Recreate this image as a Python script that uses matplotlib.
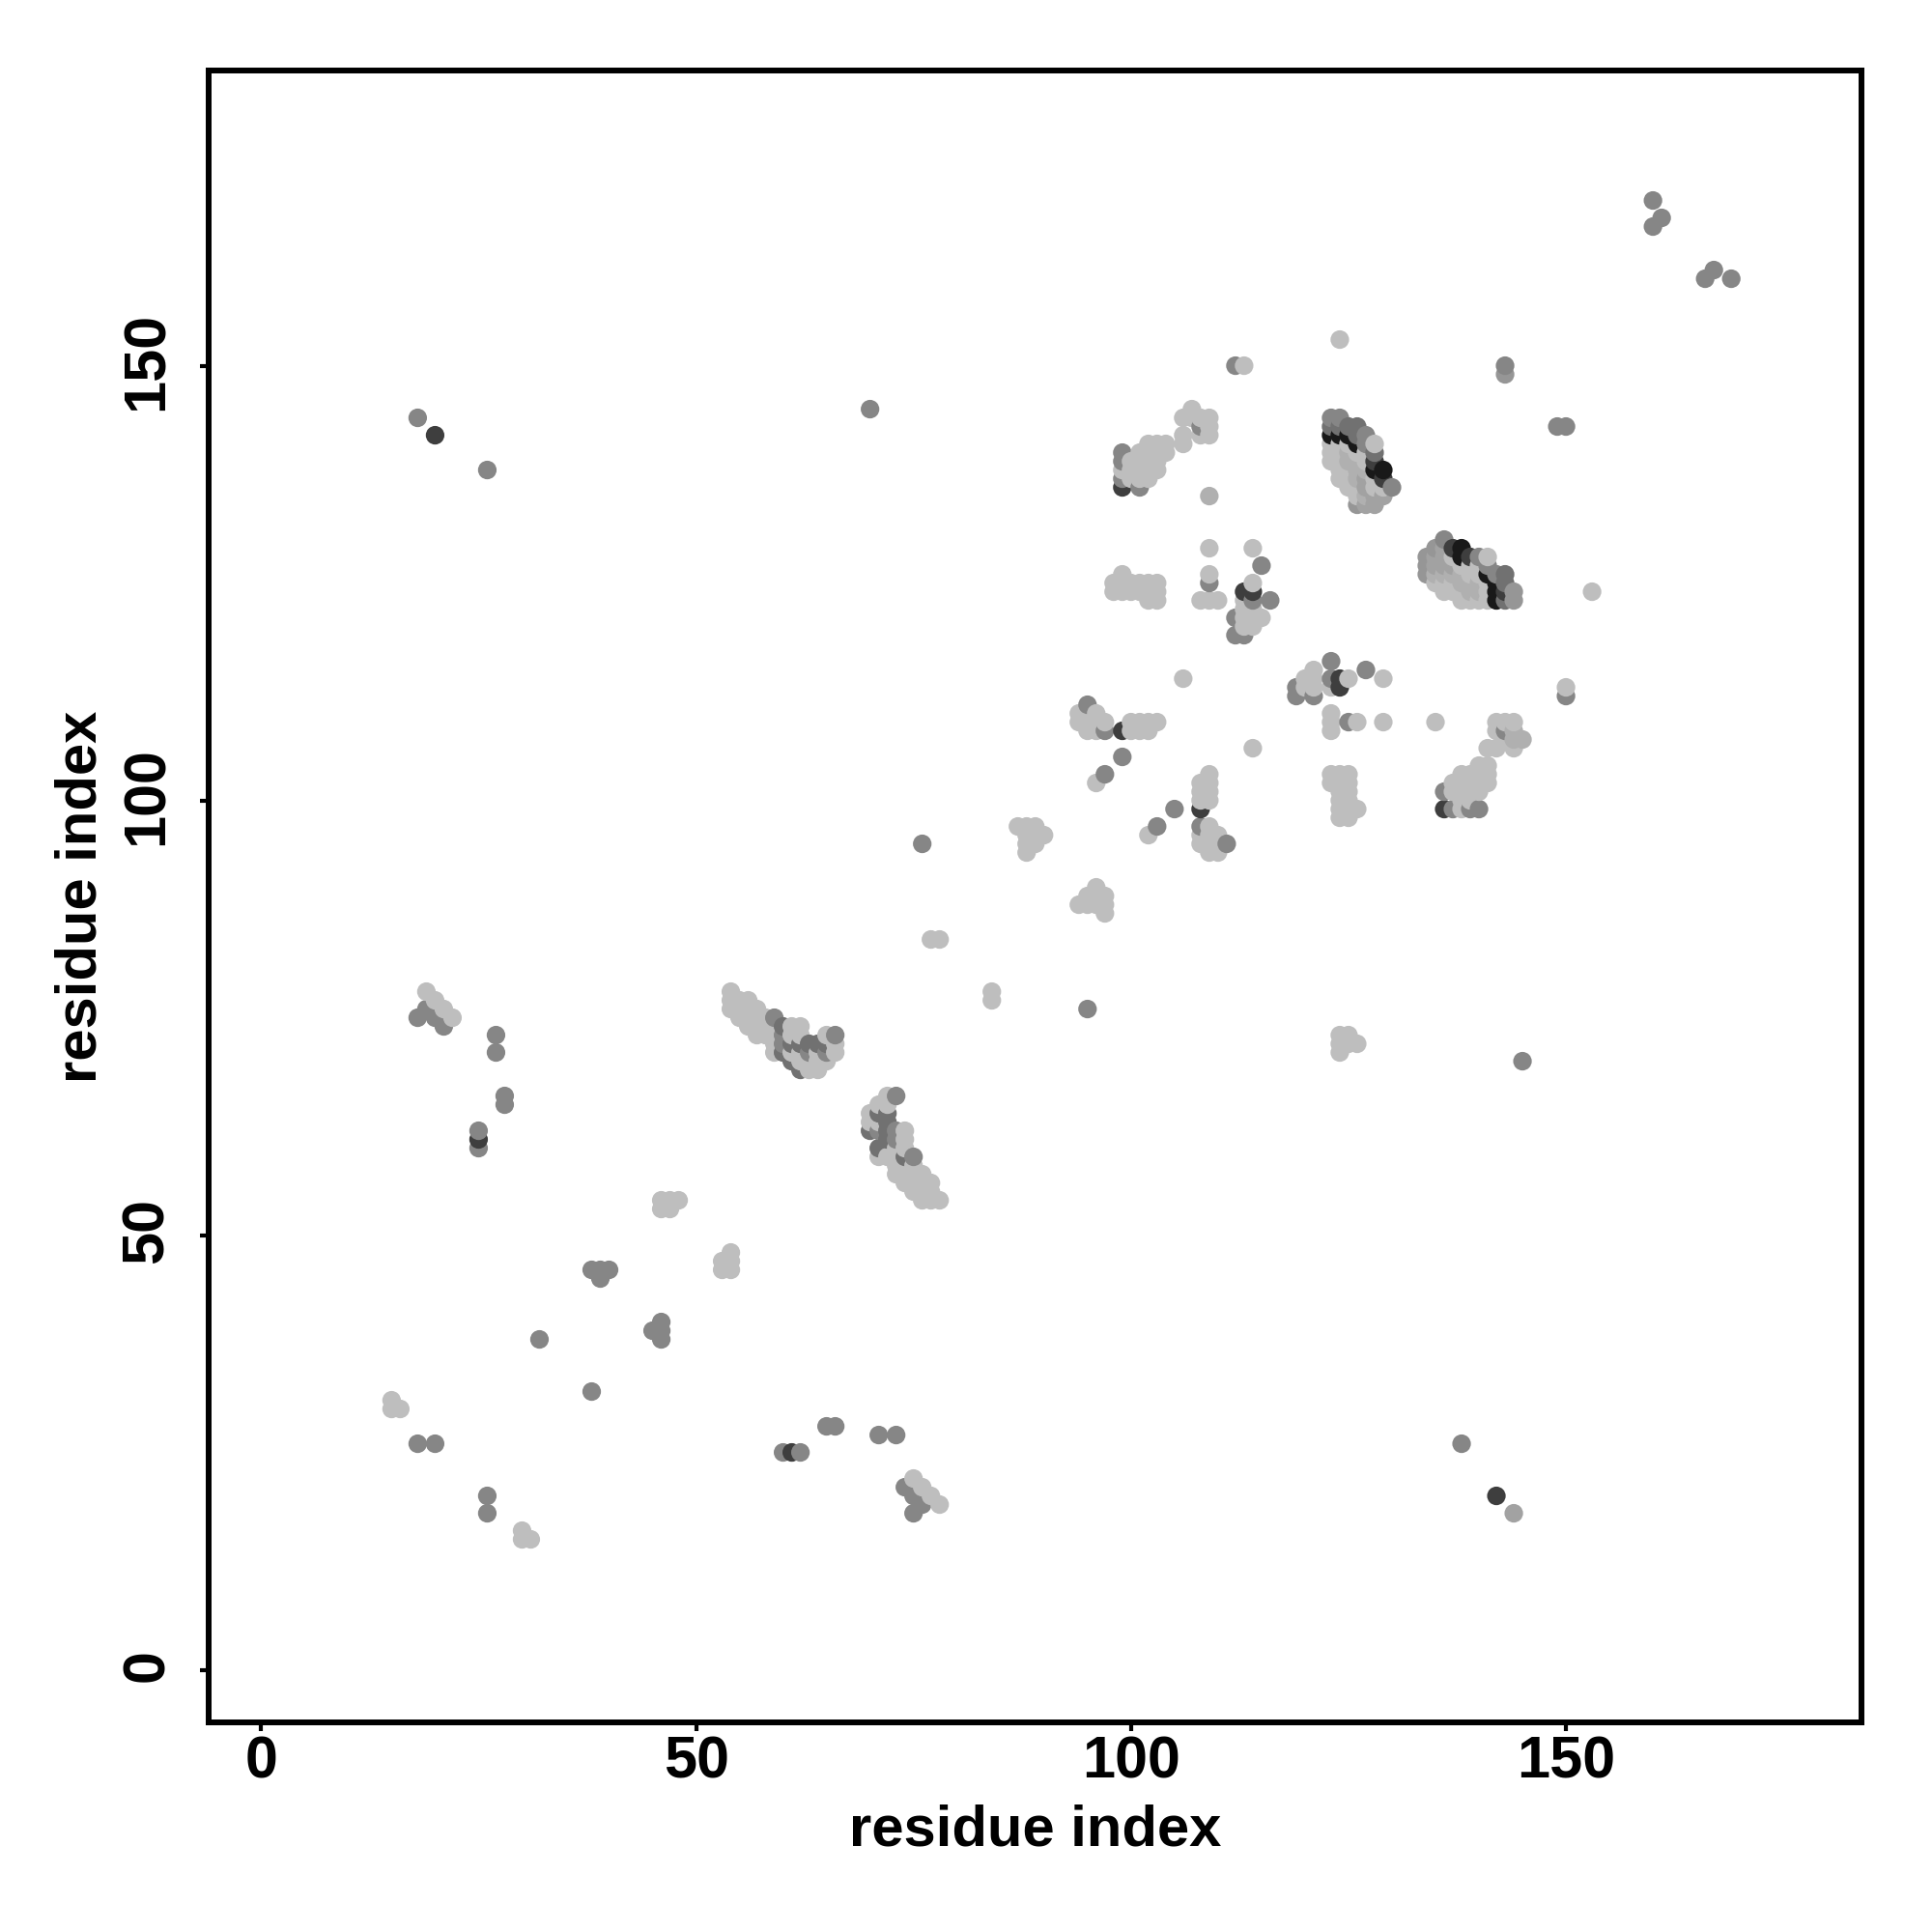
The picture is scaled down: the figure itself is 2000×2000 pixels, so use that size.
import numpy as np
import matplotlib
matplotlib.use("Agg")
import matplotlib.pyplot as plt
from matplotlib.transforms import ScaledTranslation

plt.rcParams['font.family'] = ['Liberation Sans', 'DejaVu Sans']

# (residue i, residue j) contacts, one list per grey level of the score
light = [
    (124, 153), (113, 150), (153, 124), (150, 113), (129, 114), (129, 109), (135, 109), (114, 106), (106, 114),
    # cluster around 100,140
    (99, 138), (102, 141), (103, 141), (104, 141), (101, 140), (102, 140), (103, 140), (104, 140),
    (100, 139), (101, 139), (102, 139), (103, 139), (100, 138), (101, 138), (102, 138), (103, 138),
    (100, 137), (101, 137), (102, 137), (106, 144), (107, 145), (107, 144), (106, 142), (106, 141),
    (108, 144), (109, 144), (109, 143), (109, 142), (108, 142),
    # row around 124
    (98, 125), (98, 124), (99, 126), (99, 125), (99, 124), (100, 125), (100, 124), (101, 125), (101, 124),
    (102, 125), (102, 124), (103, 125), (103, 124), (102, 123), (103, 123),
    (109, 129), (109, 126), (108, 123), (109, 123), (110, 123),
    (114, 129), (114, 125), (113, 123), (113, 121), (114, 121), (115, 121), (113, 122), (114, 122),
    (113, 120), (114, 120),
    # top centre cluster
    (123, 141), (123, 140), (123, 139), (124, 141), (124, 140), (124, 139), (124, 138), (124, 137),
    (125, 141), (125, 138), (125, 137), (125, 136), (126, 140), (126, 136), (126, 135), (127, 140), (127, 139),
    (128, 141), (128, 137), (128, 136), (129, 136),
    # right cluster
    (135, 125), (136, 125), (136, 124), (137, 128), (137, 125), (137, 124), (138, 127), (138, 124), (138, 123),
    (139, 127), (139, 126), (139, 123), (140, 127), (140, 126), (140, 123), (141, 128), (141, 125), (141, 124), (141, 123),
    # middle
    (94, 110), (94, 109), (95, 109), (95, 108), (96, 110), (96, 109), (96, 108), (97, 109), (96, 102), (102, 96),
    (100, 109), (101, 109), (102, 109), (103, 109), (100, 108), (101, 108), (102, 108),
    (109, 103), (108, 102), (109, 102), (108, 101), (109, 101), (108, 100), (109, 100),
    (109, 97), (108, 96), (109, 96), (110, 96), (108, 95), (109, 95), (110, 95), (109, 94), (110, 94),
    (121, 115), (121, 114), (121, 113), (120, 114), (120, 113), (123, 113), (125, 114),
    (123, 110), (123, 109), (123, 108), (126, 109),
    (123, 103), (124, 103), (125, 103), (123, 102), (124, 102), (125, 102), (124, 101), (125, 101),
    (124, 100), (125, 100), (124, 99), (125, 99), (126, 99), (124, 98), (125, 98),
    (138, 99), (137, 102), (137, 101), (138, 103), (138, 102), (138, 101), (138, 100),
    (139, 103), (139, 102), (139, 101), (139, 100), (140, 104), (140, 103), (140, 102), (140, 101),
    (141, 104), (141, 103), (141, 102), (141, 106), (142, 106), (142, 109), (142, 108),
    (143, 109), (144, 109), (143, 107), (144, 106),
    (87, 97), (88, 97), (89, 97), (88, 96), (89, 96), (90, 96), (88, 95), (89, 95), (88, 94),
    (94, 88), (95, 88), (96, 90), (95, 89), (96, 89), (97, 89), (97, 88), (97, 87), (96, 88),
    (77, 84), (78, 84), (84, 78), (84, 77),
    (124, 73), (125, 73), (124, 72), (125, 72), (126, 72), (124, 71),
    # lower left
    (19, 78), (20, 77), (21, 76), (22, 75),
    (54, 78), (54, 77), (54, 76), (55, 77), (55, 76), (55, 75), (56, 77), (56, 76), (56, 75), (56, 74),
    (57, 76), (57, 75), (57, 74), (57, 73), (58, 75), (58, 74), (58, 73), (59, 74), (59, 73), (59, 72), (59, 71),
    (61, 74), (62, 74), (61, 73), (62, 73), (61, 71), (62, 71), (62, 70), (63, 70), (63, 69), (64, 71), (64, 70), (64, 69),
    (65, 73), (65, 70), (66, 72), (66, 71),
    (72, 66), (72, 65), (71, 65), (70, 64), (70, 63), (71, 63), (74, 62), (74, 61), (74, 60), (73, 60),
    (71, 59), (72, 59), (73, 59), (73, 58), (74, 58), (75, 58), (73, 57), (74, 57), (75, 57), (76, 57),
    (74, 56), (75, 56), (76, 56), (77, 56), (75, 55), (76, 55), (77, 55), (76, 54), (77, 54), (78, 54),
    (46, 54), (47, 54), (48, 54), (46, 53), (47, 53),
    (54, 48), (53, 47), (54, 47), (53, 46), (54, 46),
    (15, 31), (15, 30), (16, 30), (30, 16), (30, 15), (31, 15),
    (75, 22), (76, 21), (77, 20), (78, 19),
]
pale = [
    (109, 135), (144, 108), (145, 107), (144, 107),
    (125, 140), (125, 139), (126, 139), (126, 138), (126, 137), (127, 138), (127, 135),
    (135, 126), (136, 126), (137, 126), (138, 126), (138, 125), (139, 125), (139, 124), (140, 125), (140, 124),
]
pale_mid = [
    (127, 137), (127, 136), (128, 135), (127, 134), (128, 134), (129, 135),
    (135, 128), (135, 127), (136, 129), (136, 128), (136, 127), (137, 127),
    (144, 18),
]
mid_light = [
    (134, 128), (134, 127), (134, 126), (135, 129), (126, 134), (143, 149), (144, 124), (144, 123),
]
mid = [
    (160, 169), (160, 166), (161, 167), (166, 160), (167, 161), (169, 160), (112, 150), (143, 150),
    (149, 143), (150, 143), (70, 145), (18, 144), (26, 138), (150, 112), (145, 70), (76, 95), (95, 76),
    (99, 140), (99, 139), (101, 136), (108, 143), (99, 137), (123, 144), (124, 144), (127, 141), (127, 142),
    (130, 136), (136, 130), (140, 128), (141, 127), (142, 126), (99, 105), (97, 103), (103, 97), (105, 99),
    (97, 108), (95, 111), (108, 97), (111, 95), (123, 116), (127, 115), (115, 127), (116, 123), (114, 123),
    (109, 125), (112, 121), (112, 119), (113, 119), (119, 113), (119, 112), (121, 112), (123, 114), (125, 109),
    (136, 101), (137, 99), (139, 99), (140, 99), (143, 108),
    (18, 75), (19, 76), (20, 75), (21, 74), (27, 73), (27, 71), (28, 66), (28, 65), (25, 62), (25, 60),
    (32, 38), (38, 46), (39, 46), (40, 46), (39, 45), (45, 39), (46, 40), (46, 39), (46, 38), (38, 32),
    (18, 26), (20, 26), (26, 20), (26, 18), (60, 25), (62, 25), (65, 28), (66, 28), (71, 27), (73, 27),
    (74, 21), (75, 20), (76, 19), (75, 18), (138, 26),
    (59, 75), (66, 73), (73, 66), (75, 59),
    (60, 73), (60, 72), (63, 71), (65, 71), (73, 62), (73, 61), (71, 62),
]
mid_dark = [
    (123, 143), (124, 143), (125, 143), (126, 143), (126, 142), (143, 126), (143, 125), (143, 123), (128, 140),
    (60, 74), (60, 71), (61, 72), (61, 70), (62, 72), (62, 69),
    (63, 72), (64, 72), (65, 72),
    (70, 62), (71, 64), (71, 60), (72, 64), (72, 63), (72, 62), (72, 61), (74, 59),
]
dark = [
    (99, 136), (128, 139), (143, 124), (20, 142), (25, 61), (61, 25), (99, 108), (108, 99), (113, 124), (114, 124),
    (124, 114), (124, 113), (136, 99), (137, 129), (139, 128), (142, 20), (129, 137),
]
black = [
    (123, 142), (124, 142), (125, 142), (126, 141), (128, 138), (129, 138),
    (138, 129), (138, 128), (141, 126), (142, 125), (142, 124), (142, 123),
]

groups = [light, pale, pale_mid, mid_light, mid, mid_dark, dark, black]
grey_levels = [190, 176, 162, 150, 134, 113, 62, 25]

x_ticks = [0, 50, 100, 150]
y_ticks = [0, 50, 100, 150]

xs, ys, cols = [], [], []
for pts, g in zip(groups, grey_levels):
    for a, b in pts:
        xs.append(a)
        ys.append(b)
        cols.append(g)
xs = np.array(xs)
ys = np.array(ys)
cols = np.array(cols)

# the overlap follows residue order: i first, then j
order = np.lexsort((ys, xs))
xs, ys, cols = xs[order], ys[order], cols[order]

fig = plt.figure(figsize=(20, 20), dpi=100)
ax = fig.add_axes([216 / 2000, 1 - 1783 / 2000, 1711 / 2000, 1710 / 2000])
ax.scatter(xs, ys, s=192, c=cols / 255, cmap='gray', vmin=0, vmax=1, linewidths=0, zorder=3)

ax.set_xlim(-6.03, 183.97)
ax.set_ylim(-6.05, 183.95)
ax.set_xticks(x_ticks)
ax.set_yticks(y_ticks)
ax.tick_params(length=6.5, width=3, labelsize=44)
ax.tick_params(axis='x', pad=3)
ax.tick_params(axis='y', pad=18)
for lab in ax.get_xticklabels():
    lab.set_fontweight('bold')
for lab in ax.get_yticklabels():
    lab.set_fontweight('bold')
    lab.set_rotation(90)
    lab.set_va('center')
    lab.set_transform(lab.get_transform() + ScaledTranslation(0, 3 / 72, fig.dpi_scale_trans))
for sp in ax.spines.values():
    sp.set_linewidth(4.3)

ax.set_xlabel('residue index', fontsize=43, fontweight='bold', labelpad=10)
ax.set_ylabel('residue index', fontsize=43, fontweight='bold', labelpad=10)

fig.savefig('out.png', dpi=100, facecolor='white')
